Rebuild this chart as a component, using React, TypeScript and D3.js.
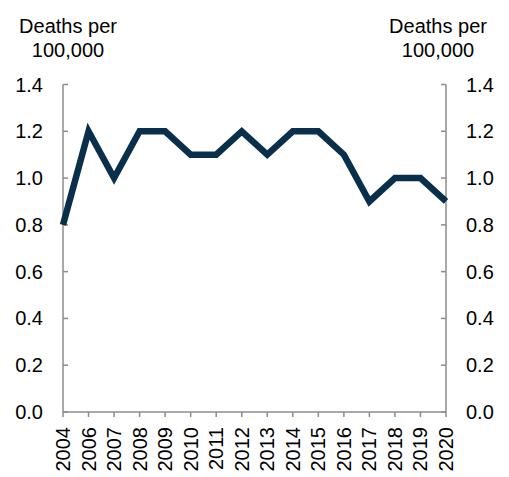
import React from "react";
import * as d3 from "d3";

const years = ["2004", "2006", "2007", "2008", "2009", "2010", "2011", "2012", "2013", "2014", "2015", "2016", "2017", "2018", "2019", "2020"];
const deaths = [0.8, 1.2, 1.0, 1.2, 1.2, 1.1, 1.1, 1.2, 1.1, 1.2, 1.2, 1.1, 0.9, 1.0, 1.0, 0.9];
const yTicks = [0, 0.2, 0.4, 0.6, 0.8, 1.0, 1.2, 1.4];
const axisTitleLines = ["Deaths per", "100,000"];

export default function App() {
  const W = 509, H = 477;
  const left = 63, right = 446, top = 84.5, bottom = 412;
  const x = d3.scalePoint<string>().domain(years).range([left, right]);
  const y = d3.scaleLinear().domain([0, 1.4]).range([bottom, top]);
  const line = d3.line<number>().x((_, i) => x(years[i])!).y((d) => y(d));
  const font = "Liberation Sans, Arial, sans-serif";
  const axisColor = "#8c8c8c";
  const fs = 20;
  return (
    <svg width={W} height={H} style={{ position: "absolute", left: 0, top: 0 }} fontFamily={font}>
      {/* axes */}
      <line x1={left} x2={left} y1={top} y2={bottom} stroke={axisColor} strokeWidth={1.5} />
      <line x1={right} x2={right} y1={top} y2={bottom} stroke={axisColor} strokeWidth={1.5} />
      <line x1={left} x2={right} y1={bottom} y2={bottom} stroke={axisColor} strokeWidth={1.5} />
      {yTicks.map((t) => (
        <g key={t}>
          <line x1={left} x2={left + 5} y1={y(t)} y2={y(t)} stroke={axisColor} strokeWidth={1.5} />
          <line x1={right - 5} x2={right} y1={y(t)} y2={y(t)} stroke={axisColor} strokeWidth={1.5} />
          <text x={43} y={y(t)} textAnchor="end" dominantBaseline="central" fontSize={fs} fill="#000">{t.toFixed(1)}</text>
          <text x={466} y={y(t)} textAnchor="start" dominantBaseline="central" fontSize={fs} fill="#000">{t.toFixed(1)}</text>
        </g>
      ))}
      {years.map((yr) => (
        <g key={yr}>
          <line x1={x(yr)!} x2={x(yr)!} y1={bottom} y2={bottom + 5} stroke={axisColor} strokeWidth={1.5} />
          <text transform={`translate(${x(yr)!},${bottom + 15}) rotate(-90)`} textAnchor="end" dominantBaseline="central" fontSize={fs} fill="#000">{yr}</text>
        </g>
      ))}
      {/* titles */}
      {axisTitleLines.map((s, i) => (
        <g key={s}>
          <text x={68} y={33 + i * 24} textAnchor="middle" fontSize={fs} fill="#000">{s}</text>
          <text x={438} y={33 + i * 24} textAnchor="middle" fontSize={fs} fill="#000">{s}</text>
        </g>
      ))}
      <path d={line(deaths)!} fill="none" stroke="#0a2f4b" strokeWidth={6.5} strokeLinejoin="miter" />
    </svg>
  );
}
